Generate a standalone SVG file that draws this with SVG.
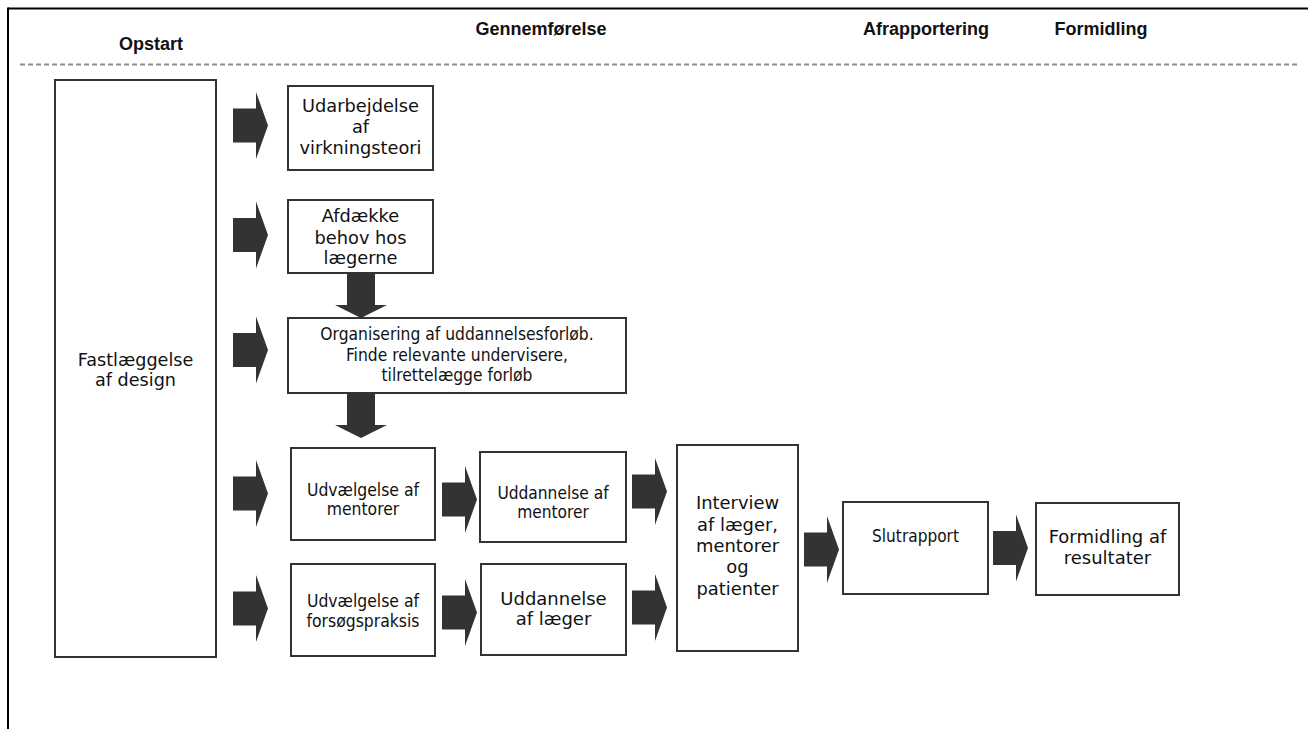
<svg xmlns="http://www.w3.org/2000/svg" width="1308" height="729" viewBox="0 0 1308 729">
<style>
.frame{stroke:#000;stroke-width:2;fill:none}
.dash{stroke:#8c8c8c;stroke-width:2;stroke-dasharray:5 3;fill:none}
.box{fill:#fff;stroke:#333;stroke-width:2}
.arr{fill:#333}
.hd{font-family:"Liberation Sans",Arial,sans-serif;font-weight:bold;font-size:18px;fill:#111;text-anchor:middle}
.v{font-family:"DejaVu Sans",Verdana,sans-serif;fill:#111;text-anchor:middle}
.t{font-family:"DejaVu Sans Condensed","Liberation Sans",sans-serif;font-stretch:condensed;fill:#111;text-anchor:middle}
</style>
<defs>
<path id="ra" d="M0,-17 H23 V-33.5 L35,0 L23,33.5 V17 H0 Z"/>
<path id="da" d="M-14,0 H14 V32 H26 L0,45 L-26,32 H-14 Z"/>
</defs>
<rect width="1308" height="729" fill="#fff"/>
<g id="frame">
<line class="frame" x1="8" y1="8.5" x2="1308" y2="8.5"/>
<line class="frame" x1="8" y1="7.5" x2="8" y2="729"/>
<line class="dash" x1="20" y1="64.5" x2="1300" y2="64.5"/>
</g>
<g id="headers">
<text class="hd" x="151" y="50">Opstart</text>
<text class="hd" x="541" y="35">Gennemførelse</text>
<text class="hd" x="926" y="35">Afrapportering</text>
<text class="hd" x="1101" y="35">Formidling</text>
</g>
<g id="connectors">
<use href="#ra" class="arr" x="233" y="125.5"/>
<use href="#ra" class="arr" x="233" y="235"/>
<use href="#ra" class="arr" x="233" y="350"/>
<use href="#ra" class="arr" x="233" y="493.5"/>
<use href="#ra" class="arr" x="233" y="608.5"/>
<use href="#ra" class="arr" x="442" y="499.5"/>
<use href="#ra" class="arr" x="442" y="612.5"/>
<use href="#ra" class="arr" x="632" y="491.5"/>
<use href="#ra" class="arr" x="632" y="607.5"/>
<use href="#ra" class="arr" x="804" y="549.5"/>
<use href="#ra" class="arr" x="993" y="548"/>
<use href="#da" class="arr" x="361" y="273"/>
<use href="#da" class="arr" x="361" y="393"/>
</g>
<g id="n-design">
<rect class="box" x="55" y="80" width="161" height="577"/>
<text class="v" font-size="17.6" x="135.5" y="366">Fastlæggelse</text>
<text class="v" font-size="17.6" x="135.5" y="386">af design</text>
</g>
<g id="n-virkningsteori">
<rect class="box" x="288" y="86" width="145" height="84"/>
<text class="v" font-size="17.8" x="360.5" y="112">Udarbejdelse</text>
<text class="v" font-size="17.8" x="360.5" y="133">af</text>
<text class="v" font-size="17.8" x="360.5" y="154">virkningsteori</text>
</g>
<g id="n-behov">
<rect class="box" x="288" y="200" width="145" height="73"/>
<text class="v" font-size="17.8" x="360.5" y="222">Afdække</text>
<text class="v" font-size="17.8" x="360.5" y="243.5">behov hos</text>
<text class="v" font-size="17.8" x="360.5" y="264">lægerne</text>
</g>
<g id="n-organisering">
<rect class="box" x="288" y="318" width="338" height="75"/>
<text class="t" font-size="17.3" x="457" y="340">Organisering af uddannelsesforløb.</text>
<text class="t" font-size="17.3" x="457" y="360.5">Finde relevante undervisere,</text>
<text class="t" font-size="17.3" x="457" y="381">tilrettelægge forløb</text>
</g>
<g id="n-udv-mentorer">
<rect class="box" x="291" y="448" width="144" height="92"/>
<text class="t" font-size="17.4" x="363" y="496">Udvælgelse af</text>
<text class="t" font-size="17.4" x="363" y="515">mentorer</text>
</g>
<g id="n-udd-mentorer">
<rect class="box" x="480" y="452" width="146" height="90"/>
<text class="t" font-size="17.2" x="553" y="499">Uddannelse af</text>
<text class="t" font-size="17.2" x="553" y="518">mentorer</text>
</g>
<g id="n-udv-praksis">
<rect class="box" x="291" y="564" width="144" height="92"/>
<text class="t" font-size="17.4" x="363" y="607">Udvælgelse af</text>
<text class="t" font-size="17.4" x="363" y="627">forsøgspraksis</text>
</g>
<g id="n-udd-laeger">
<rect class="box" x="481" y="564" width="145" height="91"/>
<text class="v" font-size="18" x="553.5" y="605">Uddannelse</text>
<text class="v" font-size="18" x="553.5" y="625">af læger</text>
</g>
<g id="n-interview">
<rect class="box" x="677" y="445" width="121" height="206"/>
<text class="v" font-size="17.9" x="737.5" y="509">Interview</text>
<text class="v" font-size="17.9" x="737.5" y="531">af læger,</text>
<text class="v" font-size="17.9" x="737.5" y="552">mentorer</text>
<text class="v" font-size="17.9" x="737.5" y="573">og</text>
<text class="v" font-size="17.9" x="737.5" y="595">patienter</text>
</g>
<g id="n-slutrapport">
<rect class="box" x="843" y="502" width="145" height="92"/>
<text class="t" font-size="17.1" x="915.5" y="542">Slutrapport</text>
</g>
<g id="n-formidling">
<rect class="box" x="1036" y="503" width="143" height="92"/>
<text class="v" font-size="18" x="1107.5" y="543">Formidling af</text>
<text class="v" font-size="18" x="1107.5" y="564">resultater</text>
</g>
</svg>
